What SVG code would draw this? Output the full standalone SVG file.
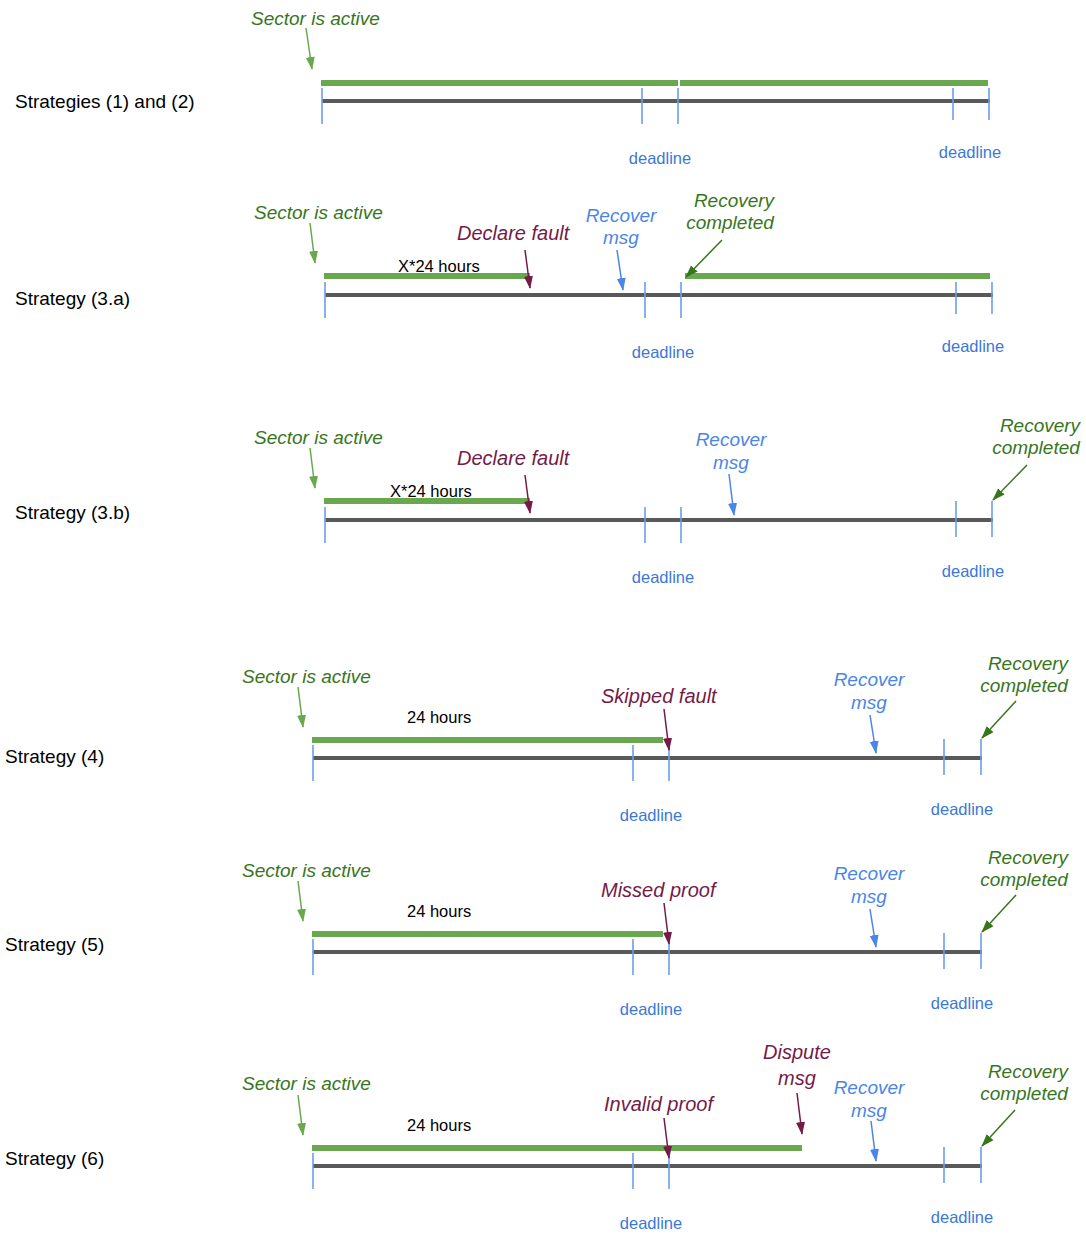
<svg xmlns="http://www.w3.org/2000/svg" width="1086" height="1237" viewBox="0 0 1086 1237">
<defs>
<style>
text{font-family:"Liberation Sans",Arial,sans-serif}
.lbl{font-size:19px;fill:#000}
.it{font-size:19px;font-style:italic}
.g{fill:#38761d}
.b{fill:#4a86e8}
.r{fill:#741b47;font-size:20px}
.dl{font-size:16.5px;fill:#3c78d8;text-anchor:middle}
.hr{font-size:16.5px;fill:#000}
.mid{text-anchor:middle}
.bar{stroke:#6aa84f;stroke-width:6}
.axis{stroke:#595959;stroke-width:4}
.tick{stroke:#6d9eeb;stroke-width:1.6}
.ag{stroke:#6aa84f;stroke-width:1.5;fill:none;marker-end:url(#mg)}
.adg{stroke:#38761d;stroke-width:1.5;fill:none;marker-end:url(#mdg)}
.ab{stroke:#4a86e8;stroke-width:1.5;fill:none;marker-end:url(#mb)}
.ar{stroke:#741b47;stroke-width:1.5;fill:none;marker-end:url(#mr)}
</style>
<marker id="mg" markerUnits="userSpaceOnUse" markerWidth="13" markerHeight="10" refX="12" refY="5" orient="auto"><path d="M0,0.5 L13,5 L0,9.5 Z" fill="#6aa84f"/></marker>
<marker id="mdg" markerUnits="userSpaceOnUse" markerWidth="13" markerHeight="10" refX="12" refY="5" orient="auto"><path d="M0,0.5 L13,5 L0,9.5 Z" fill="#38761d"/></marker>
<marker id="mb" markerUnits="userSpaceOnUse" markerWidth="13" markerHeight="10" refX="12" refY="5" orient="auto"><path d="M0,0.5 L13,5 L0,9.5 Z" fill="#4a86e8"/></marker>
<marker id="mr" markerUnits="userSpaceOnUse" markerWidth="13" markerHeight="10" refX="12" refY="5" orient="auto"><path d="M0,0.5 L13,5 L0,9.5 Z" fill="#741b47"/></marker>
</defs>
<rect width="1086" height="1237" fill="#fff"/>

<g id="row1">
<text class="lbl" x="15" y="108">Strategies (1) and (2)</text>
<line class="bar" x1="321" y1="83" x2="678" y2="83"/>
<line class="bar" x1="680" y1="83" x2="988" y2="83"/>
<line class="axis" x1="322" y1="101" x2="990" y2="101"/>
<line class="tick" x1="322" y1="88" x2="322" y2="124"/>
<line class="tick" x1="642" y1="88" x2="642" y2="124"/>
<line class="tick" x1="678" y1="88" x2="678" y2="124"/>
<line class="tick" x1="953" y1="88" x2="953" y2="120"/>
<line class="tick" x1="989" y1="88" x2="989" y2="120"/>
<text class="it g" x="251" y="25">Sector is active</text>
<text class="dl" x="660" y="164">deadline</text>
<text class="dl" x="970" y="158">deadline</text>
</g>

<g id="row2">
<text class="lbl" x="15" y="305">Strategy (3.a)</text>
<line class="bar" x1="324" y1="276" x2="530" y2="276"/>
<line class="bar" x1="685" y1="276" x2="990" y2="276"/>
<line class="axis" x1="325" y1="295" x2="993" y2="295"/>
<line class="tick" x1="325" y1="282" x2="325" y2="318"/>
<line class="tick" x1="645" y1="282" x2="645" y2="318"/>
<line class="tick" x1="681" y1="282" x2="681" y2="318"/>
<line class="tick" x1="956" y1="282" x2="956" y2="314"/>
<line class="tick" x1="992" y1="282" x2="992" y2="314"/>
<text class="it g" x="254" y="219">Sector is active</text>
<text class="hr" x="398" y="272">X*24 hours</text>
<text class="it r" x="457" y="240">Declare fault</text>
<text class="it b mid" x="621" y="222">Recover</text>
<text class="it b mid" x="621" y="244">msg</text>
<text class="it g mid" x="734" y="207">Recovery</text>
<text class="it g mid" x="730" y="229">completed</text>
<text class="dl" x="663" y="358">deadline</text>
<text class="dl" x="973" y="352">deadline</text>
</g>

<g id="row3">
<text class="lbl" x="15" y="519">Strategy (3.b)</text>
<line class="bar" x1="324" y1="501" x2="530" y2="501"/>
<line class="axis" x1="325" y1="520" x2="993" y2="520"/>
<line class="tick" x1="325" y1="507" x2="325" y2="543"/>
<line class="tick" x1="645" y1="507" x2="645" y2="543"/>
<line class="tick" x1="681" y1="507" x2="681" y2="543"/>
<line class="tick" x1="956" y1="501" x2="956" y2="537"/>
<line class="tick" x1="992" y1="501" x2="992" y2="537"/>
<text class="it g" x="254" y="444">Sector is active</text>
<text class="hr" x="390" y="497">X*24 hours</text>
<text class="it r" x="457" y="465">Declare fault</text>
<text class="it b mid" x="731" y="446">Recover</text>
<text class="it b mid" x="731" y="469">msg</text>
<text class="it g mid" x="1040" y="432">Recovery</text>
<text class="it g mid" x="1036" y="454">completed</text>
<text class="dl" x="663" y="583">deadline</text>
<text class="dl" x="973" y="577">deadline</text>
</g>

<g id="row4">
<text class="lbl" x="5" y="763">Strategy (4)</text>
<line class="bar" x1="312" y1="740" x2="663" y2="740"/>
<line class="axis" x1="313" y1="758" x2="982" y2="758"/>
<line class="tick" x1="313" y1="745" x2="313" y2="781"/>
<line class="tick" x1="633" y1="745" x2="633" y2="781"/>
<line class="tick" x1="669" y1="745" x2="669" y2="781"/>
<line class="tick" x1="944" y1="739" x2="944" y2="775"/>
<line class="tick" x1="981" y1="739" x2="981" y2="775"/>
<text class="it g" x="242" y="683">Sector is active</text>
<text class="hr" x="407" y="723">24 hours</text>
<text class="it r" x="601" y="703">Skipped fault</text>
<text class="it b mid" x="869" y="686">Recover</text>
<text class="it b mid" x="869" y="709">msg</text>
<text class="it g mid" x="1028" y="670">Recovery</text>
<text class="it g mid" x="1024" y="692">completed</text>
<text class="dl" x="651" y="821">deadline</text>
<text class="dl" x="962" y="815">deadline</text>
</g>

<g id="row5">
<text class="lbl" x="5" y="951">Strategy (5)</text>
<line class="bar" x1="312" y1="934" x2="663" y2="934"/>
<line class="axis" x1="313" y1="952" x2="982" y2="952"/>
<line class="tick" x1="313" y1="939" x2="313" y2="975"/>
<line class="tick" x1="633" y1="939" x2="633" y2="975"/>
<line class="tick" x1="669" y1="939" x2="669" y2="975"/>
<line class="tick" x1="944" y1="933" x2="944" y2="969"/>
<line class="tick" x1="981" y1="933" x2="981" y2="969"/>
<text class="it g" x="242" y="877">Sector is active</text>
<text class="hr" x="407" y="917">24 hours</text>
<text class="it r" x="601" y="897">Missed proof</text>
<text class="it b mid" x="869" y="880">Recover</text>
<text class="it b mid" x="869" y="903">msg</text>
<text class="it g mid" x="1028" y="864">Recovery</text>
<text class="it g mid" x="1024" y="886">completed</text>
<text class="dl" x="651" y="1015">deadline</text>
<text class="dl" x="962" y="1009">deadline</text>
</g>

<g id="row6">
<text class="lbl" x="5" y="1165">Strategy (6)</text>
<line class="bar" x1="312" y1="1148" x2="802" y2="1148"/>
<line class="axis" x1="313" y1="1166" x2="982" y2="1166"/>
<line class="tick" x1="313" y1="1153" x2="313" y2="1189"/>
<line class="tick" x1="633" y1="1153" x2="633" y2="1189"/>
<line class="tick" x1="669" y1="1153" x2="669" y2="1189"/>
<line class="tick" x1="944" y1="1147" x2="944" y2="1183"/>
<line class="tick" x1="981" y1="1147" x2="981" y2="1183"/>
<text class="it g" x="242" y="1090">Sector is active</text>
<text class="hr" x="407" y="1131">24 hours</text>
<text class="it r" x="604" y="1111">Invalid proof</text>
<text class="it r mid" x="797" y="1059">Dispute</text>
<text class="it r mid" x="797" y="1085">msg</text>
<text class="it b mid" x="869" y="1094">Recover</text>
<text class="it b mid" x="869" y="1117">msg</text>
<text class="it g mid" x="1028" y="1078">Recovery</text>
<text class="it g mid" x="1024" y="1100">completed</text>
<text class="dl" x="651" y="1229">deadline</text>
<text class="dl" x="962" y="1223">deadline</text>
</g>

<g id="connectors">
<line class="ag" x1="306" y1="28" x2="312" y2="69"/>
<line class="ag" x1="310" y1="223" x2="315" y2="263"/>
<line class="ar" x1="525" y1="250" x2="530" y2="288"/>
<line class="ab" x1="617" y1="250" x2="623" y2="290"/>
<line class="adg" x1="722" y1="240" x2="686" y2="277"/>
<line class="ag" x1="310" y1="448" x2="315" y2="488"/>
<line class="ar" x1="525" y1="475" x2="530" y2="513"/>
<line class="ab" x1="729" y1="474" x2="734" y2="515"/>
<line class="adg" x1="1027" y1="465" x2="993" y2="500"/>
<line class="ag" x1="298" y1="687" x2="303" y2="727"/>
<line class="ar" x1="664" y1="709" x2="669" y2="750"/>
<line class="ab" x1="870" y1="715" x2="876" y2="753"/>
<line class="adg" x1="1016" y1="701" x2="982" y2="738"/>
<line class="ag" x1="298" y1="881" x2="303" y2="921"/>
<line class="ar" x1="664" y1="903" x2="669" y2="944"/>
<line class="ab" x1="870" y1="909" x2="876" y2="947"/>
<line class="adg" x1="1016" y1="895" x2="982" y2="932"/>
<line class="ag" x1="298" y1="1095" x2="303" y2="1135"/>
<line class="ar" x1="664" y1="1118" x2="669" y2="1158"/>
<line class="ar" x1="797" y1="1093" x2="802" y2="1134"/>
<line class="ab" x1="871" y1="1121" x2="876" y2="1161"/>
<line class="adg" x1="1015" y1="1110" x2="982" y2="1146"/>
</g>
</svg>
